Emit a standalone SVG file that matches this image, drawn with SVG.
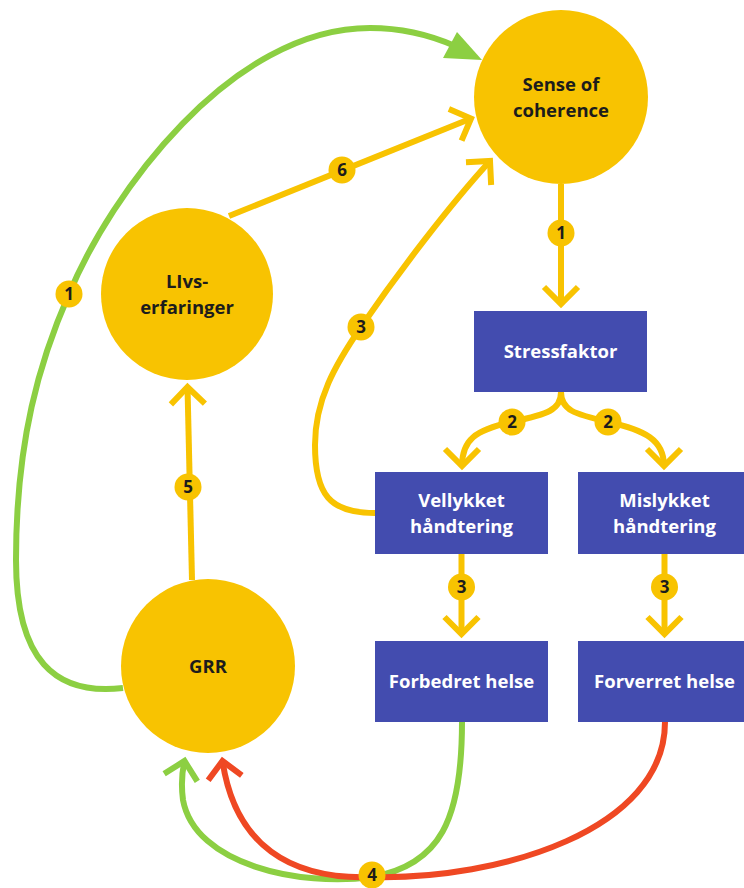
<svg xmlns="http://www.w3.org/2000/svg" width="744" height="888" viewBox="0 0 744 888">
  <style>
    .y { fill: none; stroke: #F8C301; stroke-width: 6; }
    .g { fill: none; stroke: #8CCF42; stroke-width: 6; }
    .r { fill: none; stroke: #EF4823; stroke-width: 6; }
    .circ { fill: #F8C301; }
    .box { fill: #434CAF; }
    .ct { font-family: "Open Sans", "DejaVu Sans", sans-serif; font-weight: 700; font-size: 18.5px; fill: #1c1c1c; text-anchor: middle; }
    .bt { font-family: "Open Sans", "DejaVu Sans", sans-serif; font-weight: 700; font-size: 18.5px; fill: #ffffff; text-anchor: middle; }
    .badge { fill: #F8C301; }
    .bn { font-family: "Open Sans", "DejaVu Sans", sans-serif; font-weight: 700; font-size: 17px; fill: #1c1c1c; text-anchor: middle; }
  </style>
  <defs>
    <marker id="cy" markerUnits="userSpaceOnUse" markerWidth="50" markerHeight="50" viewBox="-30 -25 50 50" refX="0" refY="0" orient="auto" overflow="visible">
      <path d="M-17,-17 L0,0 L-17,17" fill="none" stroke="#F8C301" stroke-width="6"/>
    </marker>
    <marker id="cg" markerUnits="userSpaceOnUse" markerWidth="50" markerHeight="50" viewBox="-30 -25 50 50" refX="0" refY="0" orient="auto" overflow="visible">
      <path d="M-17,-17 L0,0 L-17,17" fill="none" stroke="#8CCF42" stroke-width="6"/>
    </marker>
    <marker id="cr" markerUnits="userSpaceOnUse" markerWidth="50" markerHeight="50" viewBox="-30 -25 50 50" refX="0" refY="0" orient="auto" overflow="visible">
      <path d="M-17,-17 L0,0 L-17,17" fill="none" stroke="#EF4823" stroke-width="6"/>
    </marker>
  </defs>

  <g id="connectors">
    <!-- 1: GRR -> Sense of coherence (green, filled head) -->
    <path class="g" d="M123,688 C55,696 16,660 16,560 C16,440 40,360 69,294 C110,195 230,28 370,28 C400,28 430,35 455,46"/>
    <polygon points="482,60 457,32 443,58" fill="#8CCF42"/>
    <!-- 1: SoC -> Stressfaktor -->
    <path class="y" d="M561,184 L561,304" marker-end="url(#cy)"/>
    <!-- 2: Stressfaktor -> Vellykket / Mislykket -->
    <path class="y" d="M561,392 C561,410 548,414 512,422 C475,430 462,440 462,466" marker-end="url(#cy)"/>
    <path class="y" d="M561,392 C561,410 574,414 608,422 C645,430 664,440 664,466" marker-end="url(#cy)"/>
    <!-- 3: Vellykket -> Forbedret, Mislykket -> Forverret -->
    <path class="y" d="M461.5,554 L461.5,634" marker-end="url(#cy)"/>
    <path class="y" d="M664.5,554 L664.5,634" marker-end="url(#cy)"/>
    <!-- 3: Vellykket -> SoC -->
    <path class="y" d="M375,513 C330,513 315,495 315,445 C315,400 335,365 361,327 C400,270 450,205 490,161" marker-end="url(#cy)"/>
    <!-- 5: GRR -> Livserfaringer -->
    <path class="y" d="M192,580 L187.5,387" marker-end="url(#cy)"/>
    <!-- 6: Livserfaringer -> SoC -->
    <path class="y" d="M229,216 L471,118.5" marker-end="url(#cy)"/>
    <!-- 4: Forbedret -> GRR (green) -->
    <path class="g" d="M462,722 C462,820 440,865 372,877 C300,887 195,865 183,800 C181,785 182,772 184.5,761" marker-end="url(#cg)"/>
    <!-- 4: Forverret -> GRR (red) -->
    <path class="r" d="M665,722 C665,830 500,880 372,877 C290,880 235,845 222.5,761" marker-end="url(#cr)"/>

    <!-- badges -->
    <g>
      <circle class="badge" cx="69" cy="294" r="13.5"/><text class="bn" x="69" y="300">1</text>
      <circle class="badge" cx="561" cy="233" r="13.5"/><text class="bn" x="561" y="239">1</text>
      <circle class="badge" cx="512" cy="422" r="13.5"/><text class="bn" x="512" y="428">2</text>
      <circle class="badge" cx="608" cy="422" r="13.5"/><text class="bn" x="608" y="428">2</text>
      <circle class="badge" cx="461.5" cy="587" r="13.5"/><text class="bn" x="461.5" y="593">3</text>
      <circle class="badge" cx="664.5" cy="587" r="13.5"/><text class="bn" x="664.5" y="593">3</text>
      <circle class="badge" cx="361" cy="327" r="13.5"/><text class="bn" x="361" y="333">3</text>
      <circle class="badge" cx="372" cy="875" r="13.5"/><text class="bn" x="372" y="881">4</text>
      <circle class="badge" cx="188" cy="487" r="13.5"/><text class="bn" x="188" y="493">5</text>
      <circle class="badge" cx="342" cy="170" r="13.5"/><text class="bn" x="342" y="176">6</text>
    </g>
  </g>

  <g id="soc">
    <circle class="circ" cx="561" cy="97" r="87"/>
    <text class="ct" x="561" y="91">Sense of</text>
    <text class="ct" x="561" y="117">coherence</text>
  </g>
  <g id="livs">
    <circle class="circ" cx="187" cy="294" r="86"/>
    <text class="ct" x="187" y="288">LIvs-</text>
    <text class="ct" x="187" y="314">erfaringer</text>
  </g>
  <g id="grr">
    <circle class="circ" cx="208" cy="666" r="87"/>
    <text class="ct" x="208" y="673">GRR</text>
  </g>
  <g id="stressfaktor">
    <rect class="box" x="474" y="311" width="173" height="81"/>
    <text class="bt" x="560.5" y="358">Stressfaktor</text>
  </g>
  <g id="vellykket">
    <rect class="box" x="375" y="472" width="173" height="82"/>
    <text class="bt" x="461.5" y="507">Vellykket</text>
    <text class="bt" x="461.5" y="533">håndtering</text>
  </g>
  <g id="mislykket">
    <rect class="box" x="578" y="472" width="173" height="82"/>
    <text class="bt" x="664.5" y="507">Mislykket</text>
    <text class="bt" x="664.5" y="533">håndtering</text>
  </g>
  <g id="forbedret">
    <rect class="box" x="375" y="641" width="173" height="81"/>
    <text class="bt" x="461.5" y="688">Forbedret helse</text>
  </g>
  <g id="forverret">
    <rect class="box" x="578" y="641" width="173" height="81"/>
    <text class="bt" x="664.5" y="688">Forverret helse</text>
  </g>
</svg>
